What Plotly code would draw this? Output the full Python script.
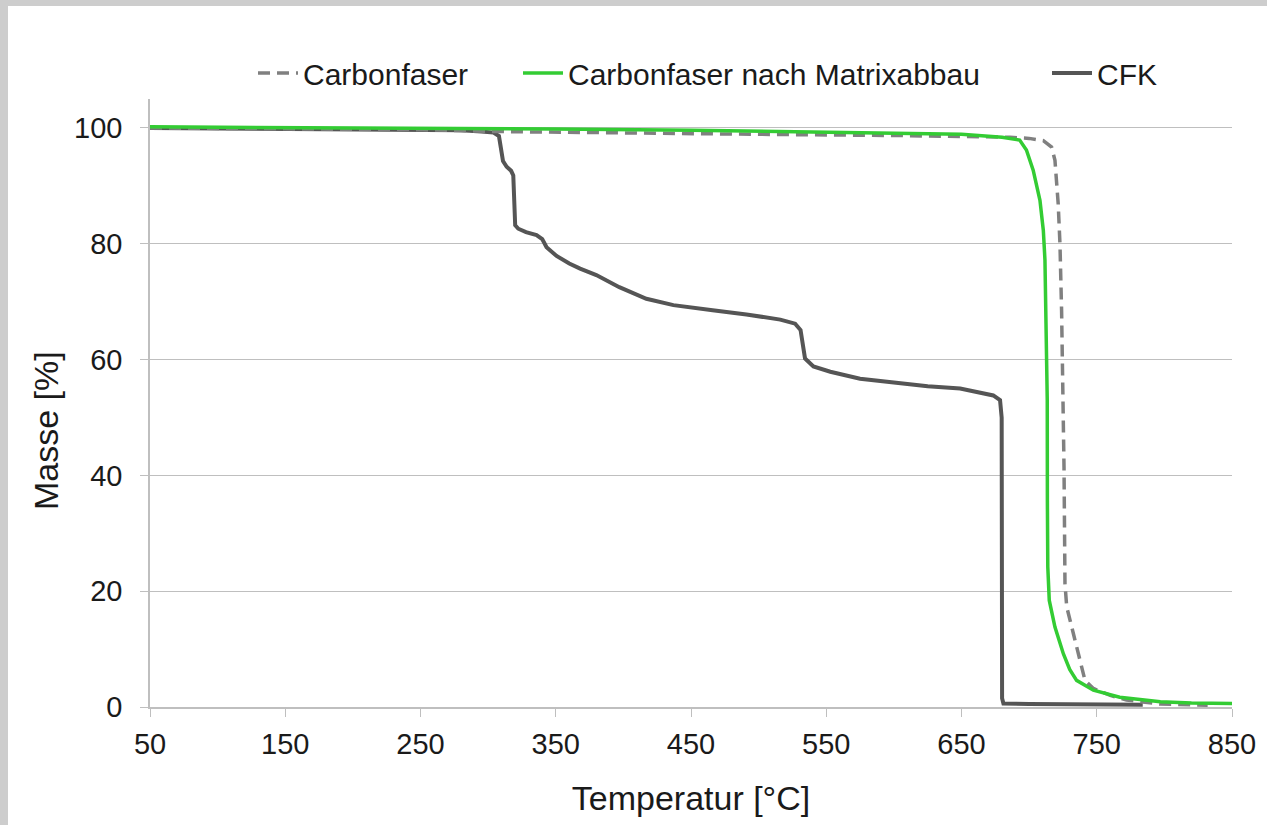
import plotly.graph_objects as go

# ---- data ----
cf_temp = [50, 150, 250, 300, 400, 500, 600, 650, 686, 700, 710.5, 716.6, 719.1, 721.5,
           722.8, 724, 725.3, 725.8, 726.5, 727.8, 732.7, 741.3, 747.5, 760, 772, 797, 832]
cf_mass = [100.0, 99.9, 99.7, 99.4, 99.1, 98.9, 98.7, 98.6, 98.4, 98.2, 97.8, 96.7, 94.4, 86.9,
           80.0, 68.5, 51.2, 41.4, 21.3, 17.3, 12.7, 4.6, 3.2, 2.0, 1.2, 0.5, 0.3]

cfm_temp = [50, 150, 250, 350, 450, 550, 650, 680, 693, 698, 703, 708, 710.5, 711.7, 713,
            713.4, 713.5, 713.8, 714.9, 719.1, 725.3, 730, 735.1, 747.5, 767, 797, 820, 850]
cfm_mass = [100.2, 100.1, 100.0, 99.8, 99.6, 99.3, 98.9, 98.4, 97.9, 96.2, 92.7, 87.5, 82.3, 77.2,
            62.8, 53.0, 35.7, 24.2, 18.4, 13.8, 9.2, 6.5, 4.6, 2.9, 1.7, 0.9, 0.7, 0.6]

cfk_temp = [50, 150, 250, 280, 295, 304, 308, 309.5, 311, 313.7, 317, 318.6, 319.5, 320, 322.3,
            328, 335.8, 340, 343.2, 350.6, 360, 368, 380, 397, 417, 437, 466, 491, 516, 527,
            531, 532.6, 534.3, 540.5, 553, 575, 605, 625, 649, 673.5, 678.5, 679.7, 679.9,
            680, 681, 700, 784]
cfk_mass = [100.0, 99.9, 99.7, 99.6, 99.4, 99.2, 98.6, 96.5, 94.3, 93.3, 92.6, 91.8, 87.0, 83.2,
            82.6, 82.0, 81.5, 80.8, 79.4, 77.9, 76.6, 75.7, 74.6, 72.5, 70.5, 69.4, 68.5, 67.8,
            66.9, 66.2, 65.1, 62.8, 60.2, 58.8, 57.9, 56.7, 55.9, 55.4, 55.0, 53.8, 53.0, 50.0,
            20.0, 1.5, 0.6, 0.5, 0.4]

x_ticks = [50, 150, 250, 350, 450, 550, 650, 750, 850]
y_ticks = [0, 20, 40, 60, 80, 100]

FONT = "Liberation Sans, Arial, sans-serif"
GRID = "#bfbfbf"

fig = go.Figure()
fig.add_trace(go.Scatter(x=cfk_temp, y=cfk_mass, mode="lines", name="CFK",
                         line=dict(color="#555555", width=4), legend="legend3"))
fig.add_trace(go.Scatter(x=cf_temp, y=cf_mass, mode="lines", name="Carbonfaser",
                         line=dict(color="#808080", width=3.5, dash="12px,7px"), legend="legend"))
fig.add_trace(go.Scatter(x=cfm_temp, y=cfm_mass, mode="lines", name="Carbonfaser nach Matrixabbau",
                         line=dict(color="#33cc33", width=3.5), legend="legend2"))

L, R, T, B = 150, 35, 99, 118
W, H = 1267, 825
pw = W - L - R
ph = H - T - B

def px_x(px):
    return (px - L) / pw

def px_y(py):
    return (H - B - py) / ph

def leg(text_start_px):
    return dict(orientation="h", x=px_x(text_start_px - 50), xanchor="left",
                y=px_y(73), yanchor="middle", font=dict(size=30, color="#1a1a1a"),
                bgcolor="rgba(0,0,0,0)", itemwidth=40)

fig.update_layout(
    width=W, height=H,
    margin=dict(l=L, r=R, t=T, b=B),
    paper_bgcolor="white",
    plot_bgcolor="white",
    font=dict(family=FONT, size=29, color="#1a1a1a"),
    showlegend=True,
    legend=leg(303),
    legend2=leg(568),
    legend3=leg(1097),
    xaxis=dict(range=[50, 850], tickvals=x_ticks, ticks="outside", ticklen=8,
               tickcolor=GRID, showline=True, linecolor=GRID, linewidth=1.5,
               showgrid=False, zeroline=False, ticklabelstandoff=2,
               title=dict(text="Temperatur [°C]", font=dict(size=34), standoff=28)),
    yaxis=dict(range=[0, 105], tickvals=y_ticks, ticks="outside", ticklen=8,
               tickcolor=GRID, showline=True, linecolor=GRID, linewidth=1.5,
               showgrid=True, gridcolor=GRID, gridwidth=1.2, zeroline=False,
               ticklabelstandoff=12),
    annotations=[dict(text="Masse [%]", x=px_x(46), y=px_y(431), xref="paper", yref="paper",
                      textangle=-90, showarrow=False, font=dict(size=34, color="#1a1a1a"),
                      xanchor="center", yanchor="middle")],
    shapes=[
        dict(type="rect", xref="paper", yref="paper", x0=px_x(0), x1=px_x(8), y0=px_y(825), y1=px_y(0),
             fillcolor="#cdcdcd", line=dict(width=0), layer="above"),
        dict(type="rect", xref="paper", yref="paper", x0=px_x(0), x1=px_x(1267), y0=px_y(6), y1=px_y(0),
             fillcolor="#cdcdcd", line=dict(width=0), layer="above"),
    ],
)

fig.write_html("out.html")
